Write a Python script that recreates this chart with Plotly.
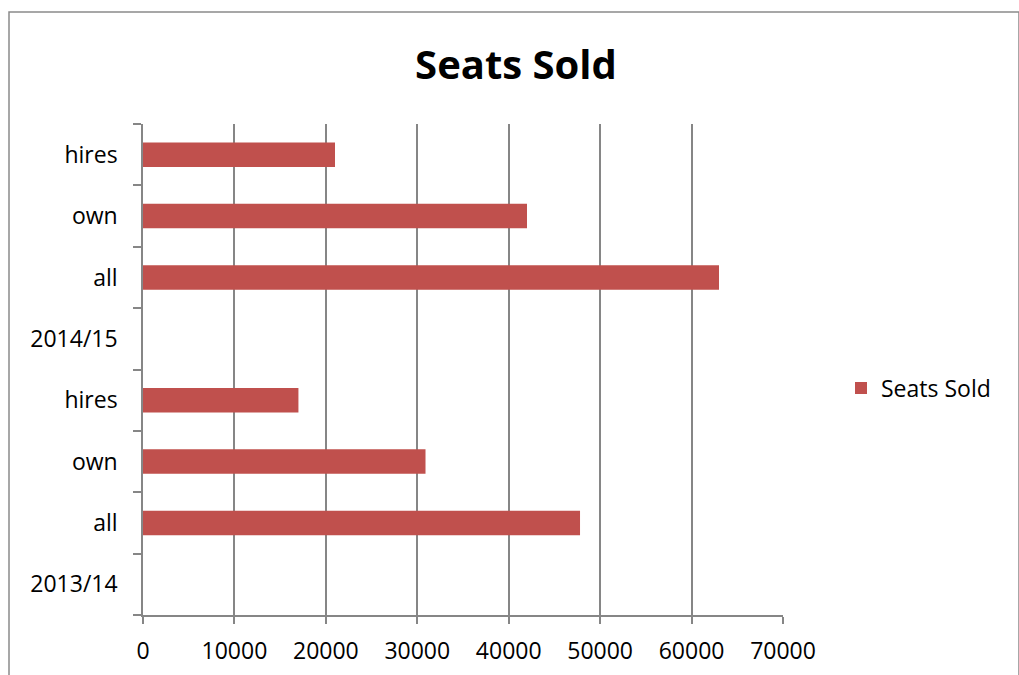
import plotly.graph_objects as go

categories = ["2013/14", "all", "own", "hires", "2014/15", "all", "own", "hires"]
seats_sold = [None, 47800, 30900, 17000, None, 63000, 42000, 21000]
x_ticks = [0, 10000, 20000, 30000, 40000, 50000, 60000, 70000]

positions = list(range(len(categories)))
FONT = "Open Sans"
GRID = "#868686"

fig = go.Figure()
fig.add_trace(go.Bar(
    x=seats_sold, y=positions, orientation="h", name="Seats Sold",
    marker=dict(color="#C0504D", line=dict(width=0)), width=0.4,
    showlegend=True,
))

L, R, T, B = 143, 783, 124, 615
W, H = 1019, 675
pw, ph = R - L, B - T

fig.update_layout(
    width=W, height=H,
    margin=dict(l=L, r=W - R, t=T, b=H - B, pad=0, autoexpand=False),
    paper_bgcolor="white", plot_bgcolor="white",
    font=dict(family=FONT, color="black", size=23),
    title=dict(text="<b>Seats Sold</b>", x=(516) / W, xanchor="center",
               y=1 - 65 / H, yanchor="middle",
               font=dict(family=FONT, size=40, color="black")),
    showlegend=True,
    legend=dict(x=(841 - L) / pw, y=(B - 388) / ph, xanchor="left", yanchor="middle",
                font=dict(family=FONT, size=23, color="black"),
                bgcolor="rgba(0,0,0,0)", itemwidth=30, traceorder="normal"),
    xaxis=dict(range=[0, 70000], tickvals=x_ticks, ticktext=[str(v) for v in x_ticks],
               showgrid=True, gridcolor=GRID, gridwidth=1.5,
               showline=True, linecolor=GRID, linewidth=1.5,
               ticks="outside", ticklen=7, tickcolor=GRID, tickwidth=1.5,
               zeroline=False, tickfont=dict(size=23, family=FONT),
               ticklabelstandoff=8, fixedrange=True, automargin=False),
    yaxis=dict(range=[-0.5, len(categories) - 0.5], tickvals=positions, ticktext=categories,
               showgrid=False, showline=True, linecolor=GRID, linewidth=1.5,
               ticks="", zeroline=False, tickfont=dict(size=23, family=FONT),
               ticklabelstandoff=19,
               minor=dict(tickvals=[p - 0.5 for p in positions] + [len(categories) - 0.5],
                          ticks="outside", ticklen=8, tickcolor=GRID, tickwidth=1.5, showgrid=False),
               fixedrange=True, automargin=False),
    bargap=0.6,
)

# Chart-area border
fig.add_shape(type="rect", xref="paper", yref="paper",
              x0=(9 - L) / pw, x1=(1019 - L) / pw,
              y0=(B - 690) / ph, y1=(B - 12) / ph,
              line=dict(color="#8a8a8a", width=1.5), fillcolor="rgba(0,0,0,0)", layer="below")

fig.write_html("out.html")
